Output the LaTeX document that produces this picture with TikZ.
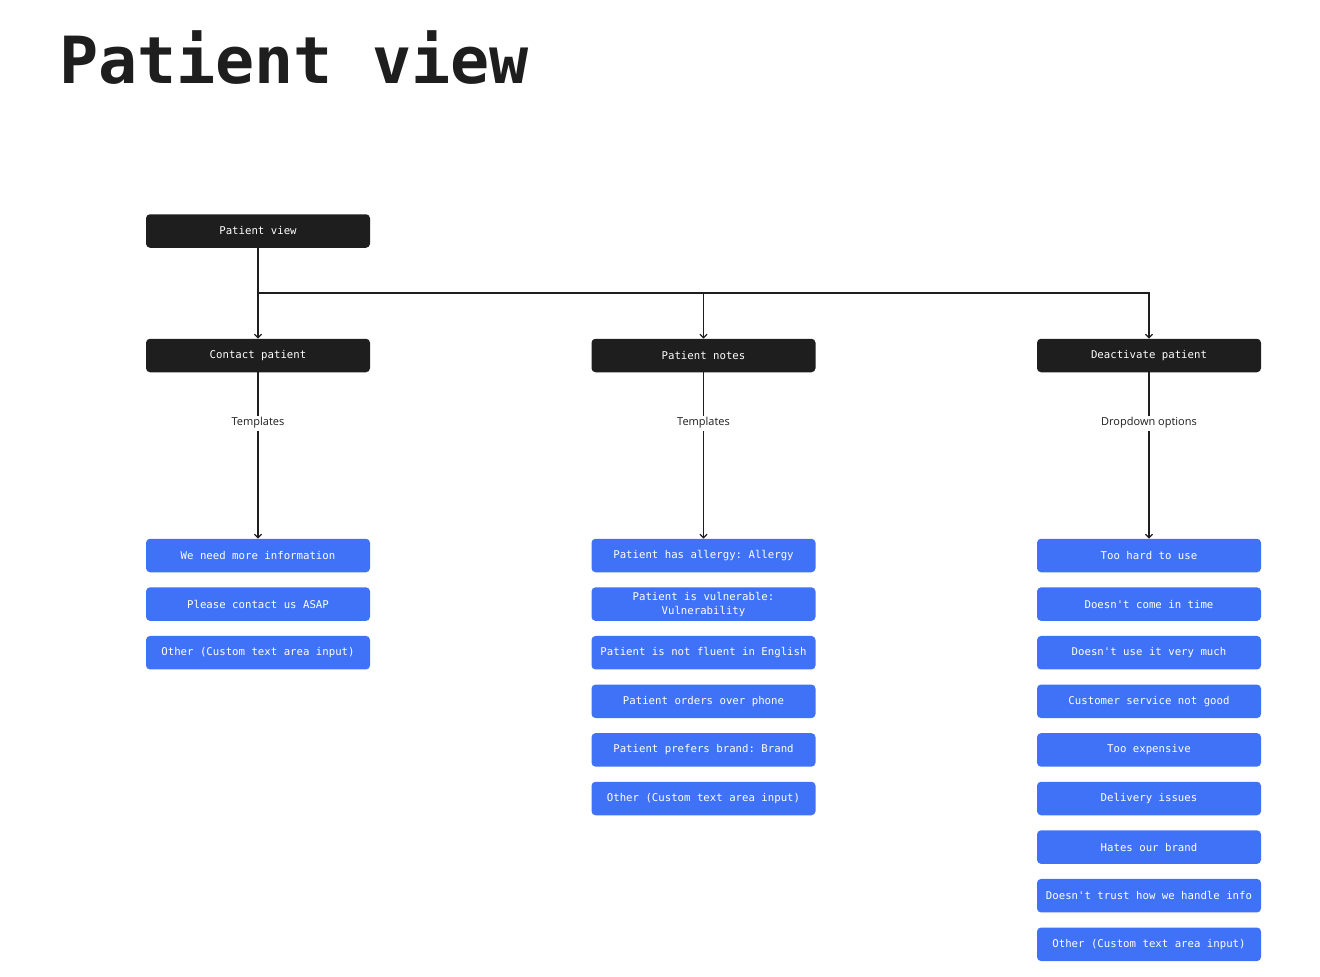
\documentclass[tikz,border=0pt]{standalone}
\usepackage{fontspec}
\setmonofont{DejaVu Sans Mono}
\newfontfamily\labelfont{Open Sans}
\usetikzlibrary{positioning, arrows.meta}

\definecolor{boxblack}{HTML}{1E1E1E}
\definecolor{boxblue}{HTML}{3F72F6}

\tikzset{
    darkbox/.style={fill=boxblack, text=white, rounded corners=4pt, minimum width=224pt,
        minimum height=33.5pt, inner sep=0pt, font=\ttfamily\fontsize{10.7}{13}\selectfont},
    bluebox/.style={fill=boxblue, text=white, rounded corners=4pt, minimum width=224pt,
        minimum height=33.5pt, inner sep=0pt, align=center, font=\ttfamily\fontsize{10.7}{14}\selectfont},
    link/.style={line width=1.2pt, draw=boxblack, >={Straight Barb[length=3.5pt,width=7pt]}},
    lbl/.style={fill=white, inner sep=2pt, text=boxblack, font=\labelfont\fontsize{11}{12}\selectfont}
}

\begin{document}
\begin{tikzpicture}[x=1pt, y=-1pt, node distance=14.7pt]
    \useasboundingbox[fill=white] (0,0) rectangle (1320,977);

    \node[anchor=base west, inner sep=0pt, text=boxblack, font=\ttfamily\bfseries\fontsize{65}{70}\selectfont] (title) at (59,83) {Patient view};

    \node[darkbox] (pv) at (258,231) {Patient view};
    \node[darkbox] (cp) at (258,355.5) {Contact patient};
    \node[darkbox] (pn) at (703.5,355.5) {Patient notes};
    \node[darkbox] (dp) at (1149,355.5) {Deactivate patient};

    \coordinate (split) at (258,293);

    % contact patient
    \node[bluebox] (c1) at (258,555.5) {We need more information};
    \node[bluebox, below=of c1] (c2) {Please contact us ASAP};
    \node[bluebox, below=of c2] (c3) {Other (Custom text area input)};

    % patient notes
    \node[bluebox] (n1) at (703.5,555.5) {Patient has allergy: Allergy};
    \node[bluebox, below=of n1] (n2) {Patient is vulnerable:\\Vulnerability};
    \node[bluebox, below=of n2] (n3) {Patient is not fluent in English};
    \node[bluebox, below=of n3] (n4) {Patient orders over phone};
    \node[bluebox, below=of n4] (n5) {Patient prefers brand: Brand};
    \node[bluebox, below=of n5] (n6) {Other (Custom text area input)};

    % deactivate patient
    \node[bluebox] (d1) at (1149,555.5) {Too hard to use};
    \node[bluebox, below=of d1] (d2) {Doesn't come in time};
    \node[bluebox, below=of d2] (d3) {Doesn't use it very much};
    \node[bluebox, below=of d3] (d4) {Customer service not good};
    \node[bluebox, below=of d4] (d5) {Too expensive};
    \node[bluebox, below=of d5] (d6) {Delivery issues};
    \node[bluebox, below=of d6] (d7) {Hates our brand};
    \node[bluebox, below=of d7] (d8) {Doesn't trust how we handle info};
    \node[bluebox, below=of d8] (d9) {Other (Custom text area input)};

    \draw[link, ->] (pv) -- (cp);
    \draw[link, ->] (split) -| (pn);
    \draw[link, ->] (split) -| (dp);

    \draw[link, ->] (cp) -- node[lbl, pos=0.305] {Templates} (c1);
    \draw[link, ->] (pn) -- node[lbl, pos=0.305] {Templates} (n1);
    \draw[link, ->] (dp) -- node[lbl, pos=0.305] {Dropdown options} (d1);
\end{tikzpicture}
\end{document}
